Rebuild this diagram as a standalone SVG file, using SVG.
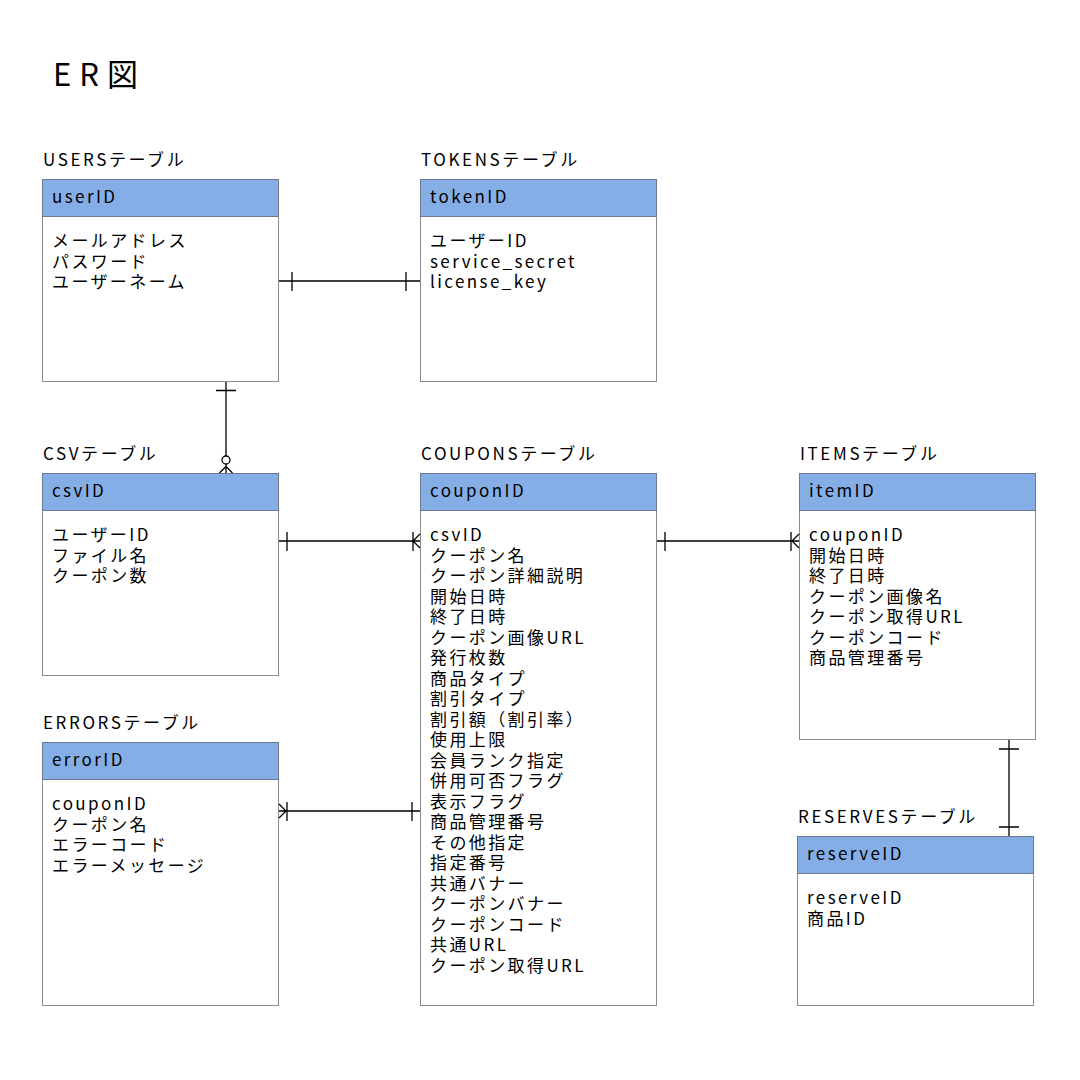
<svg xmlns="http://www.w3.org/2000/svg" width="1080" height="1080" viewBox="0 0 1080 1080">
<style>
text{font-family:"Noto Sans CJK JP","Noto Sans",sans-serif;fill:#000}
.t{font-size:17px;letter-spacing:2.6px}
.b{font-size:17px;letter-spacing:2.4px}
.h{font-size:17px;letter-spacing:2.4px}
.body{fill:#fff;stroke:#8c8c8c;stroke-width:1}
.head{fill:#86AEE6;stroke:#6a7890;stroke-width:1}
.c{stroke:#000;stroke-width:1.3;fill:none}
</style>
<rect width="1080" height="1080" fill="#fff"/>
<text x="53" y="86" style="font-size:31px;letter-spacing:8px">ER図</text>

<g id="users">
<text class="t" x="43" y="166">USERSテーブル</text>
<rect class="body" x="42.5" y="179.5" width="236" height="202"/>
<rect class="head" x="42.5" y="179.5" width="236" height="37"/>
<text class="h" x="52" y="203">userID</text>
<text class="b" x="52" y="247">メールアドレス</text>
<text class="b" x="52" y="267.5">パスワード</text>
<text class="b" x="52" y="288">ユーザーネーム</text>
</g>

<g id="tokens">
<text class="t" x="421" y="166">TOKENSテーブル</text>
<rect class="body" x="420.5" y="179.5" width="236" height="202"/>
<rect class="head" x="420.5" y="179.5" width="236" height="37"/>
<text class="h" x="430" y="203">tokenID</text>
<text class="b" x="430" y="247">ユーザーID</text>
<text class="b" x="430" y="267.5">service_secret</text>
<text class="b" x="430" y="288">license_key</text>
</g>

<g id="csv">
<text class="t" x="43" y="460">CSVテーブル</text>
<rect class="body" x="42.5" y="473.5" width="236" height="202"/>
<rect class="head" x="42.5" y="473.5" width="236" height="37"/>
<text class="h" x="52" y="497">csvID</text>
<text class="b" x="52" y="541">ユーザーID</text>
<text class="b" x="52" y="561.5">ファイル名</text>
<text class="b" x="52" y="582">クーポン数</text>
</g>

<g id="coupons">
<text class="t" x="421" y="460">COUPONSテーブル</text>
<rect class="body" x="420.5" y="473.5" width="236" height="532"/>
<rect class="head" x="420.5" y="473.5" width="236" height="37"/>
<text class="h" x="430" y="497">couponID</text>
<text class="b" x="430" y="541">csvID</text>
<text class="b" x="430" y="561.5">クーポン名</text>
<text class="b" x="430" y="582">クーポン詳細説明</text>
<text class="b" x="430" y="602.5">開始日時</text>
<text class="b" x="430" y="623">終了日時</text>
<text class="b" x="430" y="643.5">クーポン画像URL</text>
<text class="b" x="430" y="664">発行枚数</text>
<text class="b" x="430" y="684.5">商品タイプ</text>
<text class="b" x="430" y="705">割引タイプ</text>
<text class="b" x="430" y="725.5">割引額（割引率）</text>
<text class="b" x="430" y="746">使用上限</text>
<text class="b" x="430" y="766.5">会員ランク指定</text>
<text class="b" x="430" y="787">併用可否フラグ</text>
<text class="b" x="430" y="807.5">表示フラグ</text>
<text class="b" x="430" y="828">商品管理番号</text>
<text class="b" x="430" y="848.5">その他指定</text>
<text class="b" x="430" y="869">指定番号</text>
<text class="b" x="430" y="889.5">共通バナー</text>
<text class="b" x="430" y="910">クーポンバナー</text>
<text class="b" x="430" y="930.5">クーポンコード</text>
<text class="b" x="430" y="951">共通URL</text>
<text class="b" x="430" y="971.5">クーポン取得URL</text>
</g>

<g id="items">
<text class="t" x="800" y="460">ITEMSテーブル</text>
<rect class="body" x="799.5" y="473.5" width="236" height="266"/>
<rect class="head" x="799.5" y="473.5" width="236" height="37"/>
<text class="h" x="809" y="497">itemID</text>
<text class="b" x="809" y="541">couponID</text>
<text class="b" x="809" y="561.5">開始日時</text>
<text class="b" x="809" y="582">終了日時</text>
<text class="b" x="809" y="602.5">クーポン画像名</text>
<text class="b" x="809" y="623">クーポン取得URL</text>
<text class="b" x="809" y="643.5">クーポンコード</text>
<text class="b" x="809" y="664">商品管理番号</text>
</g>

<g id="errors">
<text class="t" x="43" y="729">ERRORSテーブル</text>
<rect class="body" x="42.5" y="742.5" width="236" height="263"/>
<rect class="head" x="42.5" y="742.5" width="236" height="37"/>
<text class="h" x="52" y="766">errorID</text>
<text class="b" x="52" y="810">couponID</text>
<text class="b" x="52" y="830.5">クーポン名</text>
<text class="b" x="52" y="851">エラーコード</text>
<text class="b" x="52" y="871.5">エラーメッセージ</text>
</g>

<g id="reserves">
<text class="t" x="798" y="823">RESERVESテーブル</text>
<rect class="body" x="797.5" y="836.5" width="236" height="169"/>
<rect class="head" x="797.5" y="836.5" width="236" height="37"/>
<text class="h" x="807" y="860">reserveID</text>
<text class="b" x="807" y="904">reserveID</text>
<text class="b" x="807" y="924.5">商品ID</text>
</g>

<g id="connectors">
<path class="c" d="M279 281H420M292 272V291M406 272V291"/>
<path class="c" d="M226 382V456M216 390.5H236"/>
<circle class="c" cx="226" cy="460" r="4"/>
<path class="c" d="M226 464V473M219.5 473L226 466.5L232.5 473"/>
<path class="c" d="M279 541H420M287 532V551M413 532V551M420 534L413 541L420 548"/>
<path class="c" d="M657 541H799M665 532V551M791 532V551M799 534L792 541L799 548"/>
<path class="c" d="M279 811H420M287 802V821M412 802V821M279 804L286 811L279 818"/>
<path class="c" d="M1009 740V836M999 749H1019M999 827H1019"/>
</g>
</svg>
